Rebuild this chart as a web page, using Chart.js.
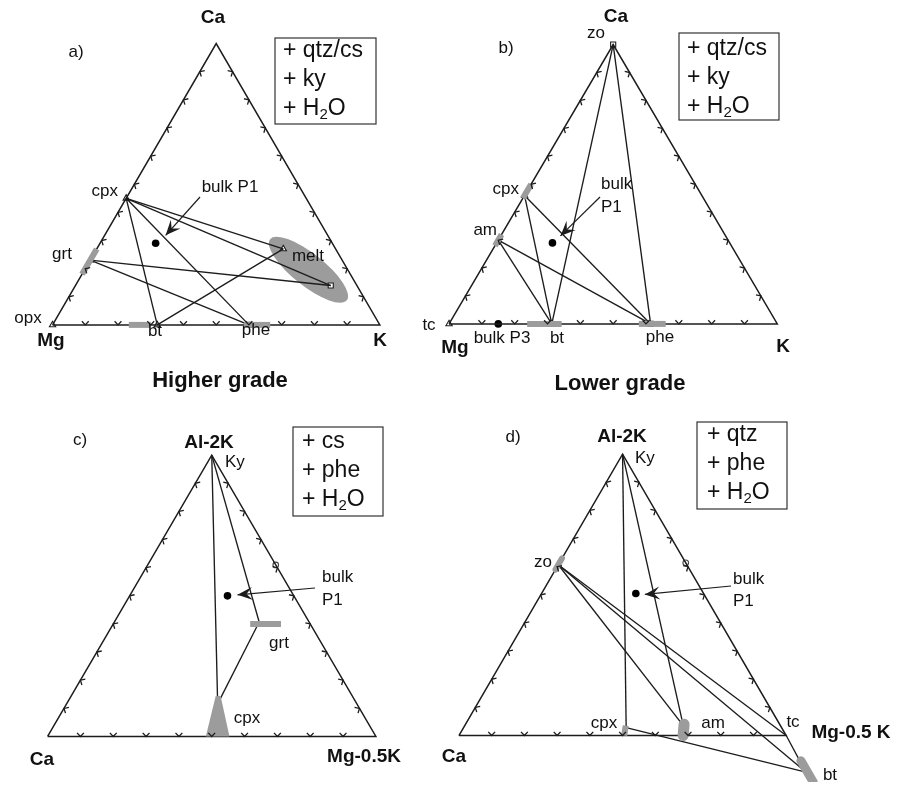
<!DOCTYPE html>
<html lang="en">
<head>
<meta charset="UTF-8">
<title>Ternary phase diagrams</title>
<script src="https://cdn.jsdelivr.net/npm/chart.js"></script>
<style>
  body { margin: 0; background: #fff; }
  #wrap { position: relative; width: 906px; height: 787px; }
  #wrap canvas { position: absolute; left: 0; top: 0; }
</style>
</head>
<body>
<div id="wrap">
  <canvas id="chartA" width="906" height="787"></canvas>
  <canvas id="chartB" width="906" height="787"></canvas>
  <canvas id="chartC" width="906" height="787"></canvas>
  <canvas id="chartD" width="906" height="787"></canvas>
</div>
<script>
// ---- data (fractions of the top and right apex; left apex = rest) ----

// a) Mg - K - Ca, higher grade
const aPhases = ['opx', 'grt', 'cpx', 'bt', 'phe', 'melt', 'melt2'];
const aCa     = [0,     0.23,  0.45,  0,    0,     0.27,   0.14];
const aK      = [0,     0,     0,     0.32, 0.60,  0.57,   0.78];
const aSymbol = ['triangle', 'triangle', 'triangle', 'triangle', 'rect', 'triangle', 'rect'];
const aTies   = [['cpx', 'melt'], ['cpx', 'melt2'], ['cpx', 'bt'], ['cpx', 'phe'],
                 ['grt', 'melt2'], ['grt', 'phe'], ['bt', 'melt']];
const aBulk   = [[0.29, 0.17]];
const aFields = [[0.18, 0, 0.27, 0], [0, 0.233, 0, 0.30], [0, 0.585, 0, 0.665]];
const aMelt   = [0.196, 0.684];

// b) Mg - K - Ca, lower grade
const bPhases = ['zo', 'cpx', 'am', 'tc', 'bt', 'phe'];
const bCa     = [1,    0.46,  0.30, 0,    0,     0];
const bK      = [0,    0,     0,    0,    0.313, 0.614];
const bSymbol = ['rect', 'triangle', 'triangle', 'triangle', 'triangle', 'rect'];
const bTies   = [['zo', 'bt'], ['zo', 'phe'], ['cpx', 'bt'], ['cpx', 'phe'], ['am', 'bt'], ['am', 'phe']];
const bBulk   = [[0.29, 0.17], [0, 0.15]];
const bFields = [[0.45, 0, 0.50, 0], [0.28, 0, 0.32, 0], [0, 0.238, 0, 0.343], [0, 0.578, 0, 0.66]];

// c) Ca - (Mg-0.5K) - (Al-2K), higher grade
const cPhases = ['Ky', 'grt', 'cpx'];
const cAl     = [1,    0.407, 0.116];
const cMg     = [0,    0.441, 0.46];
const cTies   = [['Ky', 'cpx'], ['Ky', 'grt'], ['grt', 'cpx']];
const cBulk   = [[0.50, 0.298]];
const cFields = [[0.40, 0.417, 0.40, 0.511]];
const cCpxField = [[0.144, 0.44], [0.144, 0.455], [0, 0.554], [0, 0.482], [0.144, 0.44]];
const cRing   = [[0.61, 0.39]];

// d) Ca - (Mg-0.5K) - (Al-2K), lower grade
const dPhases = ['Ky', 'zo',  'cpx', 'am',  'tc', 'bt'];
const dAl     = [1,    0.607, 0.028, 0.035, 0,    -0.13];
const dMg     = [0,    0,     0.497, 0.668, 1,    1.125];
const dTies   = [['Ky', 'cpx'], ['Ky', 'am'], ['zo', 'am'], ['zo', 'tc'], ['zo', 'bt'],
                 ['cpx', 'bt'], ['tc', 'bt']];
const dBulk   = [[0.505, 0.288]];
const dFields = [[0.63, 0, 0.59, 0], [0.035, 0.492, 0, 0.505], [0.04, 0.668, 0, 0.685],
                 [-0.09, 1.09, -0.165, 1.165]];
const dRing   = [[0.614, 0.386]];

// ---- look ----
const INK = '#1c1c1c';
const GRAY = '#9c9c9c';
const VERTEX_FONT = 'bold 19px "Liberation Sans", Arial, sans-serif';
const PHASE_FONT = '17px "Liberation Sans", Arial, sans-serif';
const BOX_FONT = '23px "Liberation Sans", Arial, sans-serif';
const GRADE_FONT = 'bold 22px "Liberation Sans", Arial, sans-serif';

function tern(top, right) {
    return { x: right + top / 2, y: top };
}

function lineSet(points, color, width, cap) {
    return {
        type: 'scatter',
        data: points,
        showLine: true,
        borderColor: color,
        borderWidth: width,
        borderCapStyle: cap || 'butt',
        pointRadius: 0,
        fill: false
    };
}

function buildPanel(p) {
    const pos = {};
    p.names.forEach(function (n, i) { pos[n] = tern(p.top[i], p.right[i]); });
    const datasets = [];

    p.fields.forEach(function (f, i) {
        const w = p.fieldWidths ? p.fieldWidths[i] : 6;
        datasets.push(lineSet([tern(f[0], f[1]), tern(f[2], f[3])], GRAY, w, p.fieldCaps ? p.fieldCaps[i] : 'butt'));
    });
    if (p.polygon) {
        const poly = lineSet(p.polygon.map(function (q) { return tern(q[0], q[1]); }), GRAY, 0);
        poly.fill = 'shape';
        poly.backgroundColor = GRAY;
        datasets.push(poly);
    }
    // triangle frame
    datasets.push(lineSet([tern(0, 0), tern(0, 1), tern(1, 0), tern(0, 0)], INK, 1.5));
    p.ties.forEach(function (t) {
        datasets.push(lineSet([pos[t[0]], pos[t[1]]], INK, 1.35));
    });
    if (p.symbols) {
        datasets.push({
            type: 'scatter',
            data: p.names.map(function (n) { return pos[n]; }),
            pointStyle: p.symbols,
            pointRadius: 3.6,
            backgroundColor: '#fff',
            borderColor: INK,
            borderWidth: 1.1
        });
    }
    if (p.ring) {
        datasets.push({
            type: 'scatter',
            data: p.ring.map(function (q) { return tern(q[0], q[1]); }),
            pointRadius: 2.8,
            backgroundColor: '#fff',
            borderColor: '#444',
            borderWidth: 1.1
        });
    }
    datasets.push({
        type: 'scatter',
        data: p.bulk.map(function (q) { return tern(q[0], q[1]); }),
        pointRadius: 3.8,
        backgroundColor: '#000',
        borderColor: '#000',
        borderWidth: 0
    });

    const g = p.geo;
    new Chart(document.getElementById(p.canvas), {
        type: 'scatter',
        data: { datasets: datasets },
        options: {
            responsive: false,
            animation: false,
            events: [],
            layout: { padding: 0 },
            plugins: { legend: { display: false }, tooltip: { enabled: false } },
            scales: {
                x: { type: 'linear', display: false, min: -g.left / g.width, max: (906 - g.left) / g.width },
                y: { type: 'linear', display: false, min: -(787 - g.base) / g.height, max: g.base / g.height }
            }
        },
        plugins: [decor(p)]
    });
}

function arrowTo(ctx, x1, y1, x2, y2) {
    ctx.beginPath();
    ctx.moveTo(x1, y1);
    ctx.lineTo(x2, y2);
    ctx.lineWidth = 1.2;
    ctx.strokeStyle = INK;
    ctx.stroke();
    const len = Math.hypot(x2 - x1, y2 - y1);
    const ux = (x2 - x1) / len, uy = (y2 - y1) / len;
    const vx = -uy, vy = ux;
    ctx.beginPath();
    ctx.moveTo(x2, y2);
    ctx.lineTo(x2 - ux * 15 + vx * 6.5, y2 - uy * 15 + vy * 6.5);
    ctx.lineTo(x2 - ux * 9, y2 - uy * 9);
    ctx.lineTo(x2 - ux * 15 - vx * 6.5, y2 - uy * 15 - vy * 6.5);
    ctx.closePath();
    ctx.fillStyle = INK;
    ctx.fill();
}

function decor(p) {
    return {
        id: 'decor' + p.canvas,
        beforeDatasetsDraw: function (chart) {
            if (!p.melt) return;
            const ctx = chart.ctx;
            const c = tern(p.melt[0], p.melt[1]);
            ctx.save();
            ctx.beginPath();
            ctx.ellipse(chart.scales.x.getPixelForValue(c.x), chart.scales.y.getPixelForValue(c.y),
                        49, 16, 38.5 * Math.PI / 180, 0, Math.PI * 2);
            ctx.fillStyle = GRAY;
            ctx.fill();
            ctx.restore();
        },
        afterDatasetsDraw: function (chart) {
            const ctx = chart.ctx;
            const sx = chart.scales.x, sy = chart.scales.y;
            const px = function (t, r) {
                const q = tern(t, r);
                return [sx.getPixelForValue(q.x), sy.getPixelForValue(q.y)];
            };
            ctx.save();

            // tick chevrons every 10 %
            const V = [px(0, 0), px(0, 1), px(1, 0)];
            const cx = (V[0][0] + V[1][0] + V[2][0]) / 3, cy = (V[0][1] + V[1][1] + V[2][1]) / 3;
            ctx.strokeStyle = INK;
            ctx.lineWidth = 1.3;
            for (let e = 0; e < 3; e++) {
                const P = V[e], Q = V[(e + 1) % 3];
                const L = Math.hypot(Q[0] - P[0], Q[1] - P[1]);
                const tx = (Q[0] - P[0]) / L, ty = (Q[1] - P[1]) / L;
                let nx = -ty, ny = tx;
                for (let k = 1; k < 10; k++) {
                    const X = P[0] + (Q[0] - P[0]) * k / 10, Y = P[1] + (Q[1] - P[1]) * k / 10;
                    if ((cx - X) * nx + (cy - Y) * ny < 0) { nx = -nx; ny = -ny; }
                    const a = 0.75, s = 5;
                    ctx.beginPath();
                    ctx.moveTo(X + s * (nx * Math.cos(a) + tx * Math.sin(a)), Y + s * (ny * Math.cos(a) + ty * Math.sin(a)));
                    ctx.lineTo(X, Y);
                    ctx.lineTo(X + s * (nx * Math.cos(a) - tx * Math.sin(a)), Y + s * (ny * Math.cos(a) - ty * Math.sin(a)));
                    ctx.stroke();
                }
            }

            // arrow to bulk P1
            const b = px(p.bulk[0][0], p.bulk[0][1]);
            arrowTo(ctx, p.arrow[0], p.arrow[1], b[0] + p.arrow[2], b[1] + p.arrow[3]);

            // texts
            ctx.fillStyle = '#111';
            ctx.textBaseline = 'middle';
            p.labels.forEach(function (l) {
                ctx.font = l[3];
                ctx.textAlign = l[4] || 'center';
                ctx.fillText(l[0], l[1], l[2]);
            });

            // assemblage box
            const bx = p.box;
            ctx.lineWidth = 1.2;
            ctx.strokeStyle = '#333';
            ctx.strokeRect(bx.x, bx.y, bx.w, bx.h);
            ctx.font = BOX_FONT;
            ctx.textAlign = 'left';
            bx.lines.forEach(function (t, i) {
                const y = bx.y + bx.first + i * bx.step;
                if (t === 'H2O') {
                    ctx.font = BOX_FONT;
                    ctx.fillText('+ H', bx.x + bx.pad, y);
                    let w = ctx.measureText('+ H').width;
                    ctx.font = '15px "Liberation Sans", Arial, sans-serif';
                    ctx.fillText('2', bx.x + bx.pad + w, y + 6);
                    w += ctx.measureText('2').width;
                    ctx.font = BOX_FONT;
                    ctx.fillText('O', bx.x + bx.pad + w, y);
                } else {
                    ctx.fillText(t, bx.x + bx.pad, y);
                }
            });
            ctx.restore();
        }
    };
}

buildPanel({
    canvas: 'chartA',
    geo: { left: 48, base: 324, width: 331, height: 285 },
    names: aPhases, top: aCa, right: aK, symbols: aSymbol, ties: aTies,
    bulk: aBulk, fields: aFields, melt: aMelt,
    arrow: [200, 197, 10, -8],
    box: { x: 275, y: 38, w: 101, h: 86, pad: 8, first: 13, step: 29, lines: ['+ qtz/cs', '+ ky', 'H2O'] },
    labels: [
        ['Ca', 213, 18, VERTEX_FONT], ['Mg', 51, 341, VERTEX_FONT], ['K', 380, 341, VERTEX_FONT],
        ['a)', 76, 52, PHASE_FONT],
        ['cpx', 118, 191, PHASE_FONT, 'right'], ['grt', 62, 254, PHASE_FONT], ['opx', 28, 318, PHASE_FONT],
        ['bt', 155, 331, PHASE_FONT], ['phe', 256, 330, PHASE_FONT], ['melt', 308, 256, PHASE_FONT],
        ['bulk P1', 230, 187, PHASE_FONT],
        ['Higher grade', 220, 381, GRADE_FONT]
    ]
});

buildPanel({
    canvas: 'chartB',
    geo: { left: 449, base: 323, width: 332, height: 283 },
    names: bPhases, top: bCa, right: bK, symbols: bSymbol, ties: bTies,
    bulk: bBulk, fields: bFields,
    arrow: [600, 197, 8, -7],
    box: { x: 679, y: 33, w: 100, h: 87, pad: 8, first: 16, step: 29, lines: ['+ qtz/cs', '+ ky', 'H2O'] },
    labels: [
        ['Ca', 616, 17, VERTEX_FONT], ['Mg', 455, 348, VERTEX_FONT], ['K', 783, 347, VERTEX_FONT],
        ['b)', 506, 48, PHASE_FONT], ['zo', 596, 33, PHASE_FONT],
        ['cpx', 519, 189, PHASE_FONT, 'right'], ['am', 497, 230, PHASE_FONT, 'right'],
        ['tc', 429, 325, PHASE_FONT], ['bulk P3', 502, 338, PHASE_FONT],
        ['bt', 557, 338, PHASE_FONT], ['phe', 660, 337, PHASE_FONT],
        ['bulk', 601, 184, PHASE_FONT, 'left'], ['P1', 601, 207, PHASE_FONT, 'left'],
        ['Lower grade', 620, 384, GRADE_FONT]
    ]
});

buildPanel({
    canvas: 'chartC',
    geo: { left: 43, base: 741, width: 332, height: 285 },
    names: cPhases, top: cAl, right: cMg, ties: cTies,
    bulk: cBulk, fields: cFields, polygon: cCpxField, ring: cRing,
    arrow: [315, 588, 10, -1],
    box: { x: 293, y: 427, w: 90, h: 89, pad: 9, first: 15, step: 29, lines: ['+ cs', '+ phe', 'H2O'] },
    labels: [
        ['Al-2K', 209, 443, VERTEX_FONT], ['Ca', 42, 760, VERTEX_FONT], ['Mg-0.5K', 364, 757, VERTEX_FONT],
        ['c)', 80, 440, PHASE_FONT], ['Ky', 225, 462, PHASE_FONT, 'left'],
        ['bulk', 322, 577, PHASE_FONT, 'left'], ['P1', 322, 600, PHASE_FONT, 'left'],
        ['grt', 279, 643, PHASE_FONT], ['cpx', 247, 718, PHASE_FONT]
    ]
});

buildPanel({
    canvas: 'chartD',
    geo: { left: 459, base: 740, width: 331, height: 285 },
    names: dPhases, top: dAl, right: dMg, ties: dTies,
    bulk: dBulk, fields: dFields, ring: dRing,
    fieldWidths: [6, 6, 11, 9], fieldCaps: ['round', 'butt', 'round', 'round'],
    arrow: [731, 586, 9, 1],
    box: { x: 697, y: 422, w: 90, h: 87, pad: 10, first: 13, step: 29, lines: ['+ qtz', '+ phe', 'H2O'] },
    labels: [
        ['Al-2K', 622, 437, VERTEX_FONT], ['Ca', 454, 757, VERTEX_FONT], ['Mg-0.5 K', 851, 733, VERTEX_FONT],
        ['d)', 513, 437, PHASE_FONT], ['Ky', 635, 458, PHASE_FONT, 'left'],
        ['zo', 543, 562, PHASE_FONT],
        ['bulk', 733, 579, PHASE_FONT, 'left'], ['P1', 733, 601, PHASE_FONT, 'left'],
        ['cpx', 604, 723, PHASE_FONT], ['am', 713, 723, PHASE_FONT], ['tc', 793, 722, PHASE_FONT],
        ['bt', 830, 775, PHASE_FONT]
    ]
});
</script>
</body>
</html>
